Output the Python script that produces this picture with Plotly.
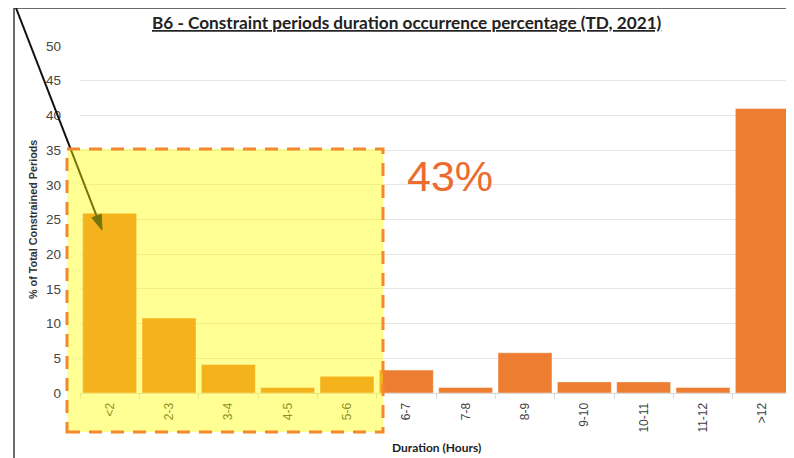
import plotly.graph_objects as go

categories = ["<2", "2-3", "3-4", "4-5", "5-6", "6-7", "7-8", "8-9", "9-10", "10-11", "11-12", ">12"]
values = [25.9, 10.8, 4.1, 0.8, 2.4, 3.3, 0.8, 5.8, 1.6, 1.6, 0.8, 41.0]
y_ticks = [0, 5, 10, 15, 20, 25, 30, 35, 40, 45, 50]

# page body has an 8px margin: work in screen pixels and convert
OFF = 8
SW, SH = 794, 458
W, H = SW - OFF, SH - OFF
PL, PR, PT, PB = 80, 792, 46, 393          # plot area in screen pixels
L, R, T, B = PL - OFF, SW - PR, PT - OFF, SH - PB
PW, PH = PR - PL, PB - PT


def px(x):
    return (x - PL) / PW


def py(y):
    return (PB - y) / PH


fig = go.Figure()
fig.add_trace(go.Bar(
    x=categories, y=values,
    marker=dict(color="#ED7D31", line=dict(color="rgba(255,255,255,0.45)", width=1)),
    hoverinfo="skip",
))

shapes = []
# frame lines (screenshot border)
shapes.append(dict(type="line", xref="paper", yref="paper", x0=px(14), x1=px(794), y0=py(8), y1=py(8),
                   line=dict(color="#3a3a3a", width=1.5), layer="above"))
shapes.append(dict(type="line", xref="paper", yref="paper", x0=px(14), x1=px(14), y0=py(8), y1=py(458),
                   line=dict(color="#3a3a3a", width=1.5), layer="above"))
# arrow line + head (below the yellow overlay)
tip = (102, 230)
start = (16, 8)
dx, dy = tip[0] - start[0], tip[1] - start[1]
n = (dx * dx + dy * dy) ** 0.5
ux, uy = dx / n, dy / n
back = (tip[0] - 15 * ux, tip[1] - 15 * uy)
pxp, pyp = uy, -ux
w1 = (back[0] + 5 * pxp, back[1] + 5 * pyp)
w2 = (back[0] - 5 * pxp, back[1] - 5 * pyp)
shapes.append(dict(type="line", xref="paper", yref="paper", x0=px(start[0]), y0=py(start[1]),
                   x1=px(back[0] + 2 * ux), y1=py(back[1] + 2 * uy),
                   line=dict(color="#111111", width=2), layer="above"))
shapes.append(dict(type="path", xref="paper", yref="paper",
                   path=f"M {px(tip[0])} {py(tip[1])} L {px(w1[0])} {py(w1[1])} L {px(w2[0])} {py(w2[1])} Z",
                   fillcolor="#111111", line=dict(color="#111111", width=1), layer="above"))
# yellow highlight box
shapes.append(dict(type="rect", xref="paper", yref="paper", x0=px(67), x1=px(383), y0=py(432), y1=py(149),
                   fillcolor="rgba(255,255,0,0.42)", line=dict(width=0), layer="above"))
shapes.append(dict(type="rect", xref="paper", yref="paper", x0=px(67), x1=px(383), y0=py(432), y1=py(149),
                   fillcolor="rgba(0,0,0,0)", line=dict(color="#F3892A", width=3, dash="13px,9px"), layer="above"))

annotations = [
    dict(text="<b><u>B6 - Constraint periods duration occurrence percentage (TD, 2021)</u></b>",
         xref="paper", yref="paper", x=px(407), y=py(23), showarrow=False,
         font=dict(family="Lato", size=17.2, color="#222222"), xanchor="center", yanchor="middle"),
    dict(text="43%", xref="paper", yref="paper", x=px(450), y=py(176), showarrow=False,
         font=dict(family="Liberation Sans", size=43, color="#EC6C2F"), xanchor="center", yanchor="middle"),
    dict(text="<b>% of Total Constrained Periods</b>", xref="paper", yref="paper", x=px(33), y=py(220),
         showarrow=False, textangle=-90,
         font=dict(family="Liberation Sans", size=10.8, color="#333333"), xanchor="center", yanchor="middle"),
    dict(text="<b>Duration (Hours)</b>", xref="paper", yref="paper", x=px(436), y=py(447), showarrow=False,
         font=dict(family="Lato", size=12, color="#222222"), xanchor="center", yanchor="middle"),
]

fig.update_layout(
    width=W, height=H,
    margin=dict(l=L, r=R, t=T, b=B, autoexpand=False),
    paper_bgcolor="white", plot_bgcolor="white",
    showlegend=False, bargap=0.09,
    shapes=shapes, annotations=annotations,
    xaxis=dict(type="category", tickangle=-90, ticks="outside", tickson="boundaries", ticklen=5,
               tickcolor="#D9D9D9", showline=True, linecolor="#D9D9D9", linewidth=1,
               showgrid=False, tickfont=dict(family="Liberation Sans", size=12, color="#3f3f3f"),
               ticklabelstandoff=4, fixedrange=True),
    yaxis=dict(range=[0, 50], tickvals=y_ticks, showgrid=True, gridcolor="#E6E6E6", gridwidth=1,
               zeroline=False, showline=False, ticks="",
               tickfont=dict(family="Liberation Sans", size=13.5, color="#444444"),
               ticklabelstandoff=18, fixedrange=True),
)

fig.write_html("out.html")
